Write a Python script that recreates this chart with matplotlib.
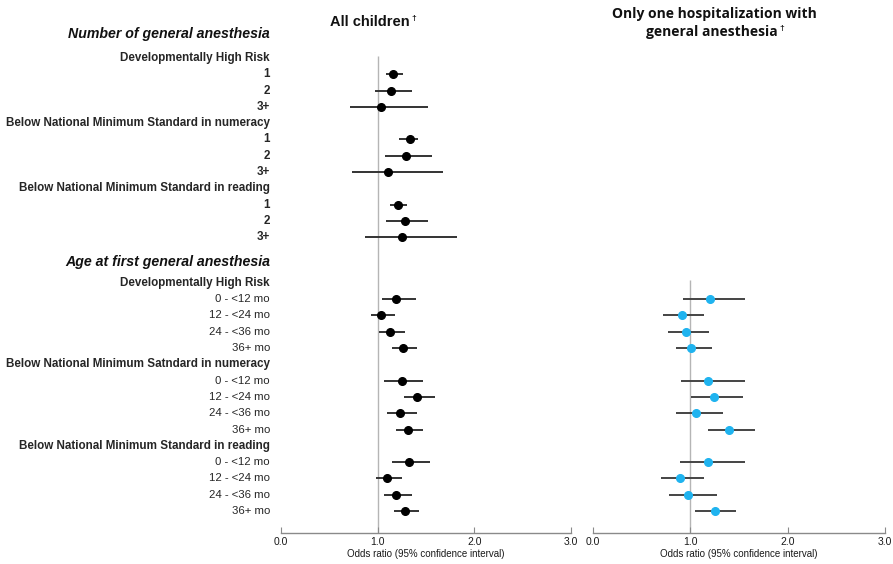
import matplotlib.pyplot as plt
from matplotlib.transforms import blended_transform_factory

plt.rcParams['font.family'] = ['Liberation Sans', 'DejaVu Sans']

# section titles and row labels
num_title = "Number of general anesthesia"
age_title = "Age at first general anesthesia"
num_outcomes = ["Developmentally High Risk",
                "Below National Minimum Standard in numeracy",
                "Below National Minimum Standard in reading"]
age_outcomes = ["Developmentally High Risk",
                "Below National Minimum Satndard in numeracy",
                "Below National Minimum Standard in reading"]
num_levels = ["1", "2", "3+"]
age_levels = ["0 - <12 mo", "12 - <24 mo", "24 - <36 mo", "36+ mo"]

# odds ratios, all children, number of GA
num_or = [1.16, 1.14, 1.03, 1.33, 1.29, 1.11, 1.21, 1.28, 1.25]
num_lo = [1.09, 0.97, 0.71, 1.22, 1.08, 0.73, 1.13, 1.09, 0.87]
num_hi = [1.26, 1.36, 1.52, 1.42, 1.56, 1.68, 1.30, 1.52, 1.82]

# odds ratios, all children, age at first GA
age_or_all = [1.19, 1.03, 1.13, 1.26, 1.25, 1.41, 1.23, 1.31, 1.32, 1.10, 1.19, 1.28]
age_lo_all = [1.04, 0.93, 1.01, 1.15, 1.07, 1.27, 1.10, 1.19, 1.15, 0.98, 1.07, 1.17]
age_hi_all = [1.40, 1.18, 1.28, 1.41, 1.47, 1.59, 1.41, 1.47, 1.54, 1.25, 1.35, 1.43]

# odds ratios, only one hospitalization with GA
age_or_one = [1.20, 0.91, 0.96, 1.01, 1.18, 1.24, 1.06, 1.40, 1.18, 0.89, 0.98, 1.25]
age_lo_one = [0.92, 0.72, 0.77, 0.85, 0.90, 1.01, 0.85, 1.18, 0.89, 0.70, 0.78, 1.05]
age_hi_one = [1.56, 1.14, 1.19, 1.22, 1.56, 1.54, 1.34, 1.66, 1.56, 1.14, 1.27, 1.47]

# build row positions (one unit = one row)
rows = []  # (pos, text, kind)
pos = 0.0
rows.append((pos, num_title, "title"))
pos += 1.47
num_pos = []
for out in num_outcomes:
    rows.append((pos, out, "header"))
    for lev in num_levels:
        pos += 1
        rows.append((pos, lev, "numlevel"))
        num_pos.append(pos)
    pos += 1
num_first = rows[1][0]
pos += 0.5
rows.append((pos, age_title, "title"))
pos += 1.3
age_first = pos
age_pos = []
for out in age_outcomes:
    rows.append((pos, out, "header"))
    for lev in age_levels:
        pos += 1
        rows.append((pos, lev, "agelevel"))
        age_pos.append(pos)
    pos += 1
bottom = age_pos[-1] + 1.35
top = -0.86

W, H = 893, 564
fig = plt.figure(figsize=(W / 100, H / 100), dpi=100)
ax1 = fig.add_axes([281 / W, 31 / H, 290 / W, 513 / H])
ax2 = fig.add_axes([593 / W, 31 / H, 292 / W, 513 / H])

for ax in (ax1, ax2):
    ax.set_xlim(0, 3)
    ax.set_ylim(bottom, top)
    for s in ("top", "left", "right"):
        ax.spines[s].set_visible(False)
    ax.spines["bottom"].set_color("#8a8a8a")
    ax.spines["bottom"].set_linewidth(1)
    ax.set_yticks([])
    ax.set_xticks([0, 1, 2, 3])
    ax.set_xticklabels(["0.0", "1.0", "2.0", "3.0"])
    ax.tick_params(axis="x", direction="in", length=4, color="#8a8a8a",
                   labelsize=7.5, labelcolor="#1a1a1a", pad=3)
    ax.set_xlabel("Odds ratio (95% confidence interval)", fontsize=7,
                  color="#1a1a1a", labelpad=1)

ax1.vlines(1, num_first - 0.1, bottom, color="#b5b5b5", lw=1, zorder=1)
ax2.vlines(1, age_first - 0.2, bottom, color="#b5b5b5", lw=1, zorder=1)

# all children
ax1.hlines(num_pos, num_lo, num_hi, color="#333333", lw=1.4, zorder=2)
ax1.plot(num_or, num_pos, "o", color="black", ms=5.5, zorder=3)
ax1.hlines(age_pos, age_lo_all, age_hi_all, color="#333333", lw=1.4, zorder=2)
ax1.plot(age_or_all, age_pos, "o", color="black", ms=5.5, zorder=3)

# only one hospitalization
ax2.hlines(age_pos, age_lo_one, age_hi_one, color="#444444", lw=1.4, zorder=2)
ax2.plot(age_or_one, age_pos, "o", color="#1fb3ef", ms=5.5, zorder=3)

# row labels
tr = blended_transform_factory(ax1.transAxes, ax1.transData)
xl = -11 / 290
for p, txt, kind in rows:
    if kind == "title":
        ax1.text(xl, p, txt, transform=tr, ha="right", va="center",
                 fontsize=10.2, fontweight="bold", fontstyle="italic", color="#111111")
    elif kind == "header" or kind == "numlevel":
        ax1.text(xl, p, txt, transform=tr, ha="right", va="center",
                 fontsize=8.4, fontweight="bold", color="#262626")
    else:
        ax1.text(xl, p, txt, transform=tr, ha="right", va="center",
                 fontsize=8.2, color="#262626")

# panel titles
t1 = fig.text(370 / W, 1 - 22 / H, "All children", ha="center", va="center",
              fontsize=10.5, fontweight="bold", color="#111111")
ax1.annotate("\u2020", xy=(1, 0.75), xycoords=t1, xytext=(1, 0),
             textcoords="offset points", fontsize=6, fontweight="bold",
             va="center", ha="left", color="#111111")
fig.text(714 / W, 1 - 14 / H, "Only one hospitalization with", ha="center",
         va="center", fontsize=10, fontweight="bold", color="#111111",
         family=["Open Sans", "DejaVu Sans"])
t2 = fig.text(712 / W, 1 - 32 / H, "general anesthesia", ha="center",
              va="center", fontsize=10, fontweight="bold", color="#111111",
              family=["Open Sans", "DejaVu Sans"])
ax2.annotate("\u2020", xy=(1, 0.75), xycoords=t2, xytext=(1, 0),
             textcoords="offset points", fontsize=6, fontweight="bold",
             va="center", ha="left", color="#111111")

fig.savefig("out.png", dpi=100)
